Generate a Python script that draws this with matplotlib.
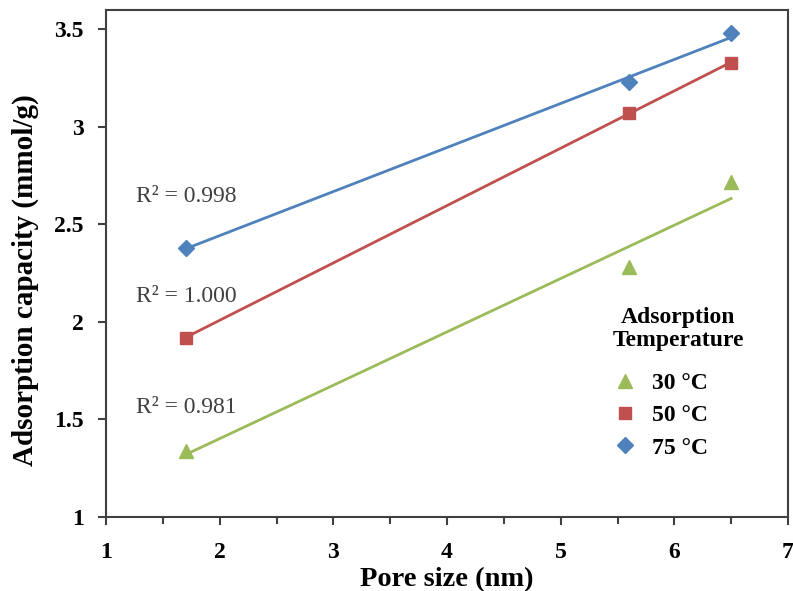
import matplotlib
matplotlib.use('Agg')
import matplotlib.pyplot as plt
from matplotlib.ticker import MultipleLocator
import numpy as np

# pore size (nm) and adsorption capacity (mmol/g)
pore_size = [1.7, 5.6, 6.5]
cap_30 = [1.34, 2.28, 2.72]
cap_50 = [1.92, 3.07, 3.33]
cap_75 = [2.38, 3.23, 3.48]

r2_labels = ['R\u00b2 = 0.981', 'R\u00b2 = 1.000', 'R\u00b2 = 0.998']
series_labels = ['30 \u00b0C', '50 \u00b0C', '75 \u00b0C']

plt.rcParams['font.family'] = ['Liberation Serif', 'DejaVu Serif']

fig = plt.figure(figsize=(7.93, 5.91), dpi=100)
ax = fig.add_axes([0.1337, 0.1252, 0.86, 0.858])

styles = [
  ('#9BBB59', '^', 10),
  ('#C0504D', 's', 9),
  ('#4F81BD', 'D', 8),
]
r2_pos = [(1.26, 1.56), (1.26, 2.13), (1.26, 2.645)]

handles = []
for caps, (color, marker, ms), lab, r2, pos in zip([cap_30, cap_50, cap_75], styles, series_labels, r2_labels, r2_pos):
  x = np.array(pore_size)
  y = np.array(caps)
  # linear trendline
  slope, intercept = np.polyfit(x, y, 1)
  ax.plot(x, slope * x + intercept, color=color, lw=2, zorder=2)
  h, = ax.plot(x, y, linestyle='none', marker=marker, markersize=ms,
               color=color, label=lab, zorder=3)
  handles.append(h)
  ax.text(pos[0], pos[1], r2, fontsize=17, color='#404040', va='center', ha='left')

ax.set_xlim(1, 7)
ax.set_ylim(1, 3.6)
ax.xaxis.set_major_locator(MultipleLocator(1))
ax.xaxis.set_minor_locator(MultipleLocator(0.5))
ax.set_yticks([1, 1.5, 2, 2.5, 3, 3.5])
ax.set_yticklabels(['1', '1.5', '2', '2.5', '3', '3.5'])

for sp in ax.spines.values():
  sp.set_color('#404040')
  sp.set_linewidth(1.5)

ax.tick_params(axis='both', which='major', direction='out', length=6, width=1.5,
               color='#404040', labelsize=17)
ax.tick_params(axis='x', which='major', pad=12)
ax.tick_params(axis='y', which='major', pad=10)
ax.tick_params(axis='x', which='minor', direction='out', length=5, width=1.5, color='#404040')
for lbl in ax.get_xticklabels() + ax.get_yticklabels():
  lbl.set_fontweight('bold')

ax.set_xlabel('Pore size (nm)', fontsize=20.5, fontweight='bold')
ax.xaxis.set_label_coords(0.5, -0.099)
ax.set_ylabel('Adsorption capacity (mmol/g)', fontsize=21, fontweight='bold')
ax.yaxis.set_label_coords(-0.119, 0.467)
ax.yaxis.label.set_va('center')

# legend title drawn as text, entries as a legend below it
ax.text(0.839, 0.37, 'Adsorption\nTemperature', transform=ax.transAxes, fontsize=17,
        fontweight='bold', ha='center', va='center', linespacing=1.12)
leg = ax.legend(handles=handles, loc='center', bbox_to_anchor=(0.81, 0.20),
                frameon=False, fontsize=17, handletextpad=0.5, labelspacing=0.45,
                handlelength=1.3)
for t in leg.get_texts():
  t.set_fontweight('bold')

fig.savefig('out.png', dpi=100)
